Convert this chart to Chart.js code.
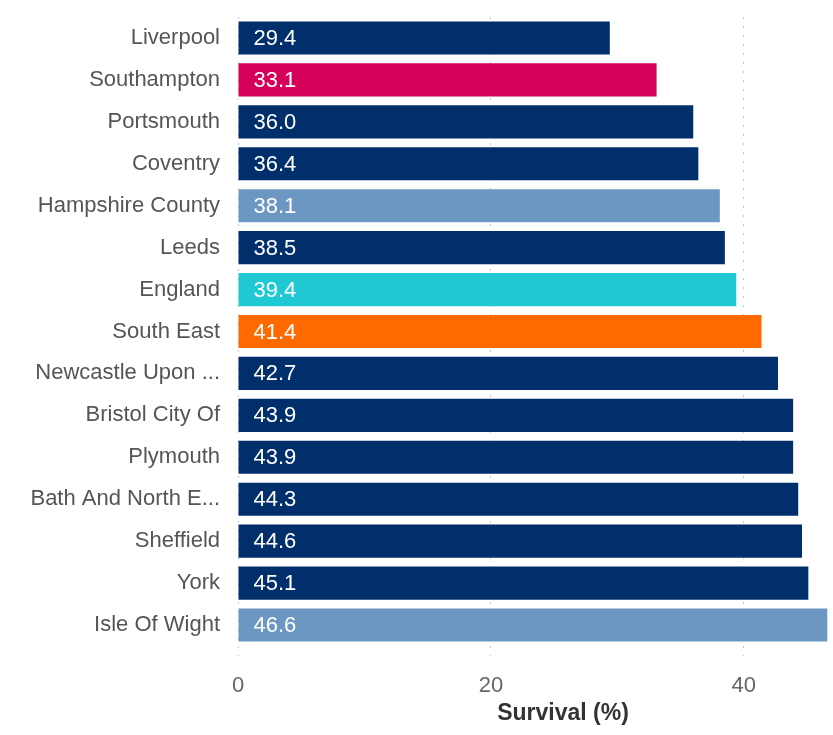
<!DOCTYPE html>
<html>
<head>
<meta charset="utf-8">
<script src="https://cdn.jsdelivr.net/npm/chart.js@4"></script>
<style>
  html, body { margin: 0; padding: 0; background: #fff; overflow: hidden; }
  #wrap { width: 900px; height: 735px; }
</style>
</head>
<body>
<div id="wrap"><canvas id="survival"></canvas></div>
<script>
//Area names, top to bottom
const areas = [
  "Liverpool", "Southampton", "Portsmouth", "Coventry", "Hampshire County",
  "Leeds", "England", "South East", "Newcastle Upon ...", "Bristol City Of",
  "Plymouth", "Bath And North E...", "Sheffield", "York", "Isle Of Wight"
];
//Survival (%) for each area
const survival = [29.4, 33.1, 36.0, 36.4, 38.1, 38.5, 39.4, 41.4, 42.7, 43.9, 43.9, 44.3, 44.6, 45.1, 46.6];
//Group of each area, decides the colour
const groups = [
  "city", "home", "city", "city", "county", "city", "national", "region",
  "city", "city", "city", "city", "city", "city", "county"
];
const groupColors = {
  city: "#002f6c",
  home: "#d4005a",
  county: "#6b97c2",
  national: "#1fc8d3",
  region: "#ff6a00"
};
const xTicks = [0, 20, 40];

const FONT = "'Liberation Sans', Arial, sans-serif";

//Writes the value inside each bar, near its base
const barValues = {
  id: "barValues",
  afterDatasetsDraw: chart => {
    const ctx = chart.ctx;
    const meta = chart.getDatasetMeta(0);
    ctx.save();
    ctx.font = "22px " + FONT;
    ctx.fillStyle = "#ffffff";
    ctx.textBaseline = "middle";
    ctx.textAlign = "left";
    meta.data.forEach((bar, i) => {
      ctx.fillText(survival[i].toFixed(1), bar.base + 15, bar.y + 1);
    });
    ctx.restore();
  }
};

new Chart(document.getElementById("survival"), {
  type: "bar",
  plugins: [barValues],
  data: {
    labels: areas,
    datasets: [{
      data: survival,
      backgroundColor: groups.map(g => groupColors[g]),
      barPercentage: 0.79,
      categoryPercentage: 1
    }]
  },
  options: {
    indexAxis: "y",
    responsive: true,
    maintainAspectRatio: false,
    animation: false,
    layout: { padding: { top: 17, right: 12, left: 0, bottom: 0 } },
    plugins: {
      legend: { display: false },
      tooltip: { enabled: false }
    },
    scales: {
      y: {
        grid: { display: false, drawTicks: false },
        border: { display: false },
        ticks: {
          color: "#555555",
          padding: 18,
          font: { family: FONT, size: 22 }
        },
        afterFit: s => {
          s.width = 238;
          //keep the label padding from shrinking the plot vertically
          s.paddingTop = 0;
          s.paddingBottom = 0;
        }
      },
      x: {
        min: 0,
        max: 51.4,
        afterBuildTicks: s => {
          s.ticks = s.ticks.filter(t => xTicks.includes(t.value));
        },
        afterFit: s => { s.height = 89; },
        grid: {
          color: "#c8c8c8",
          lineWidth: 1,
          tickLength: 10,
          tickColor: "#c8c8c8",
          tickBorderDash: [2, 7]
        },
        border: { display: false, dash: [2, 7] },
        ticks: {
          color: "#666666",
          padding: 17,
          stepSize: 20,
          font: { family: FONT, size: 22 }
        },
        title: {
          display: true,
          text: "Survival (%)",
          color: "#333333",
          padding: { top: 0, bottom: 8 },
          font: { family: FONT, size: 23, weight: "bold" }
        }
      }
    }
  }
});
</script>
</body>
</html>
